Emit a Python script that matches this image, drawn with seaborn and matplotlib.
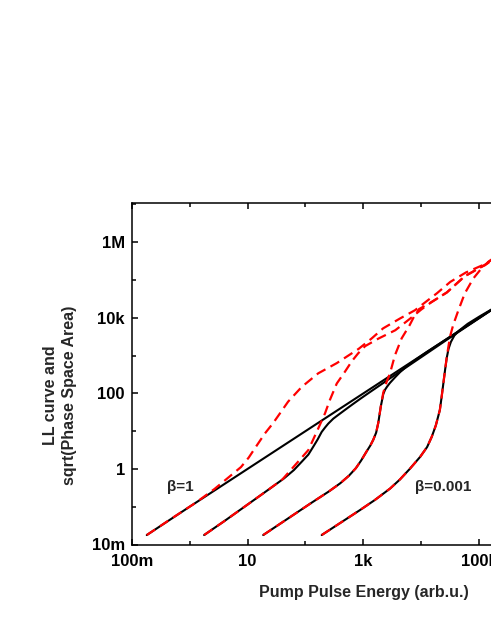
import numpy as np
import pandas as pd
import seaborn as sns
import matplotlib
matplotlib.use("Agg")
import matplotlib.pyplot as plt
from matplotlib.ticker import FixedLocator, FixedFormatter, NullFormatter

# ---------------- data (log10 values) ----------------
# black solid LL curves
b1_logx = [-0.74, 0.0, 1.0, 2.0, 3.0, 4.0, 5.0, 5.5]
b1_logy = [-1.75, -1.0, 0.0, 1.0, 2.0, 3.0, 4.0, 4.5]

b2_logx = [0.25, 0.6, 1.04, 1.35, 1.63, 1.8, 1.935, 2.05, 2.135, 2.21, 2.28, 2.34, 2.394,
           2.48, 2.566, 2.68, 2.80, 2.95, 3.1, 3.3, 3.6, 4.0, 4.5, 5.0, 5.5]
b2_logy = [-1.75, -1.38, -0.9, -0.56, -0.25, -0.03, 0.19, 0.38, 0.59, 0.78, 0.98, 1.1, 1.2,
           1.33, 1.43, 1.56, 1.695, 1.86, 2.02, 2.23, 2.545, 2.96, 3.48, 3.99, 4.5]

b3_logx = [1.27, 1.7, 2.1, 2.4, 2.6, 2.75, 2.87, 2.96, 3.05, 3.12, 3.17, 3.22, 3.257, 3.30,
           3.343, 3.375, 3.41, 3.46, 3.55, 3.632, 3.75, 3.92, 4.1, 4.3, 4.6, 5.0, 5.5]
b3_logy = [-1.75, -1.31, -0.9, -0.6, -0.38, -0.18, 0.02, 0.22, 0.45, 0.62, 0.77, 0.96, 1.22, 1.65,
           1.98, 2.1, 2.18, 2.28, 2.43, 2.56, 2.72, 2.91, 3.1, 3.3, 3.6, 4.0, 4.5]

b4_logx = [2.28, 2.6, 2.94, 3.2, 3.46, 3.63, 3.8, 3.98, 4.1, 4.18, 4.25, 4.32, 4.35, 4.38,
           4.41, 4.44, 4.47, 4.51, 4.57, 4.65, 4.8, 5.01, 5.2, 5.5]
b4_logy = [-1.75, -1.43, -1.09, -0.82, -0.52, -0.28, 0.0, 0.32, 0.58, 0.85, 1.15, 1.56, 1.9, 2.26,
           2.62, 2.95, 3.18, 3.36, 3.53, 3.66, 3.84, 4.04, 4.21, 4.5]

# red dashed sqrt(phase space area) curves
r1_logx = [-0.74, -0.3, 0.1, 0.43, 0.714, 0.887, 1.02, 1.146, 1.3, 1.44, 1.55, 1.70, 1.935,
           2.22, 2.54, 2.77, 2.92, 3.14, 3.34, 3.63, 3.89, 4.27, 4.5, 4.77, 5.1, 5.4]
r1_logy = [-1.75, -1.3, -0.9, -0.53, -0.17, 0.05, 0.3, 0.59, 0.94, 1.21, 1.45, 1.78, 2.17,
           2.53, 2.80, 3.03, 3.18, 3.45, 3.72, 3.98, 4.2, 4.65, 4.95, 5.2, 5.42, 5.72]

r2_logx = [0.25, 0.6, 1.04, 1.35, 1.6, 1.82, 2.05, 2.22, 2.337, 2.42, 2.54, 2.68, 2.8, 2.91,
           3.03, 3.26, 3.55, 3.8, 4.0, 4.18, 4.44, 4.75, 5.1, 5.4]
r2_logy = [-1.75, -1.38, -0.9, -0.56, -0.28, 0.1, 0.5, 1.07, 1.47, 1.82, 2.26, 2.57, 2.85, 3.06,
           3.25, 3.45, 3.67, 3.97, 4.22, 4.42, 4.67, 5.1, 5.4, 5.7]

r3_logx = [1.27, 1.7, 2.1, 2.4, 2.6, 2.75, 2.87, 2.96, 3.05, 3.12, 3.17, 3.22, 3.257, 3.30,
           3.343, 3.40, 3.459, 3.545, 3.66, 3.80, 3.88, 3.96, 4.18, 4.44, 4.75, 5.1, 5.4]
r3_logy = [-1.75, -1.31, -0.9, -0.6, -0.38, -0.18, 0.02, 0.22, 0.45, 0.62, 0.77, 0.96, 1.22, 1.65,
           2.02, 2.3, 2.53, 3.01, 3.455, 3.81, 4.05, 4.23, 4.42, 4.67, 5.1, 5.4, 5.7]

r4_logx = [2.28, 2.6, 2.94, 3.2, 3.46, 3.63, 3.8, 3.98, 4.1, 4.18, 4.25, 4.32, 4.35, 4.38,
           4.41, 4.44, 4.495, 4.55, 4.64, 4.75, 4.897, 5.04, 5.156, 5.4]
r4_logy = [-1.75, -1.43, -1.09, -0.82, -0.52, -0.28, 0.0, 0.32, 0.58, 0.85, 1.15, 1.56, 1.9, 2.26,
           2.62, 2.97, 3.5, 3.81, 4.2, 4.645, 5.04, 5.31, 5.48, 5.75]

x_major = [1e-1, 1e1, 1e3, 1e5, 1e7]
x_labels = ["100m", "10", "1k", "100k", "10M"]
x_minor = [1e0, 1e2, 1e4, 1e6]
y_major = [1e-2, 1e0, 1e2, 1e4, 1e6]
y_labels = ["10m", "1", "100", "10k", "1M"]
y_minor = [1e-1, 1e1, 1e3, 1e5, 1e7]

# ---------------- style ----------------
sns.set_theme(style="ticks")
plt.rcParams["font.family"] = ["Liberation Sans", "DejaVu Sans"]
plt.rcParams["font.weight"] = "bold"
plt.rcParams["axes.labelweight"] = "bold"

fig = plt.figure(figsize=(4.91, 6.35), dpi=100)
ax = fig.add_axes([131.7 / 491, 1 - 544.5 / 635, 463.4 / 491, 341.2 / 635])

black = [(b1_logx, b1_logy), (b2_logx, b2_logy), (b3_logx, b3_logy), (b4_logx, b4_logy)]
red = [(r1_logx, r1_logy), (r2_logx, r2_logy), (r3_logx, r3_logy), (r4_logx, r4_logy)]

for lx, ly in black:
    df = pd.DataFrame({"x": np.power(10.0, lx), "y": np.power(10.0, ly)})
    sns.lineplot(data=df, x="x", y="y", ax=ax, color="black", linewidth=1.5,
                 estimator=None, sort=False, solid_joinstyle="round")
for lx, ly in red:
    df = pd.DataFrame({"x": np.power(10.0, lx), "y": np.power(10.0, ly)})
    sns.lineplot(data=df, x="x", y="y", ax=ax, color="#ff0000", linewidth=1.6,
                 linestyle=(0, (4.5, 2.6)), estimator=None, sort=False)

ax.set_xscale("log")
ax.set_yscale("log")
ax.set_xlim(1e-1, 1e7)
ax.set_ylim(1e-2, 10 ** 7.03)

ax.xaxis.set_major_locator(FixedLocator(x_major))
ax.xaxis.set_major_formatter(FixedFormatter(x_labels))
ax.xaxis.set_minor_locator(FixedLocator(x_minor))
ax.xaxis.set_minor_formatter(NullFormatter())
ax.yaxis.set_major_locator(FixedLocator(y_major))
ax.yaxis.set_major_formatter(FixedFormatter(y_labels))
ax.yaxis.set_minor_locator(FixedLocator(y_minor))
ax.yaxis.set_minor_formatter(NullFormatter())

for s in ax.spines.values():
    s.set_linewidth(1.1)
    s.set_color("black")

ax.tick_params(which="both", direction="in", top=True, right=True, colors="black",
               width=1.1)
ax.tick_params(which="major", length=4.5, labelsize=12)
ax.tick_params(axis="x", which="major", pad=6.5)
ax.tick_params(axis="y", which="major", pad=5)
ax.tick_params(which="minor", length=3)
for lab in ax.get_xticklabels() + ax.get_yticklabels():
    lab.set_fontweight("bold")

ax.set_xlabel("Pump Pulse Energy (arb.u.)", fontsize=11.5, fontweight="bold")
ax.xaxis.set_label_coords(0.5, -0.119)
ax.set_ylabel("")
fig.text(60 / 491, 1 - 395 / 635, "LL curve and\nsqrt(Phase Space Area)",
         rotation=90, ha="center", va="center", multialignment="center",
         fontsize=11.5, fontweight="bold", linespacing=1.3)

ax.text(0.104, 0.169, "β=1", transform=ax.transAxes, ha="center", va="center",
        fontsize=11, fontweight="bold")
ax.text(0.672, 0.169, "β=0.001", transform=ax.transAxes, ha="center", va="center",
        fontsize=11, fontweight="bold")

fig.savefig("out.png", dpi=100)
